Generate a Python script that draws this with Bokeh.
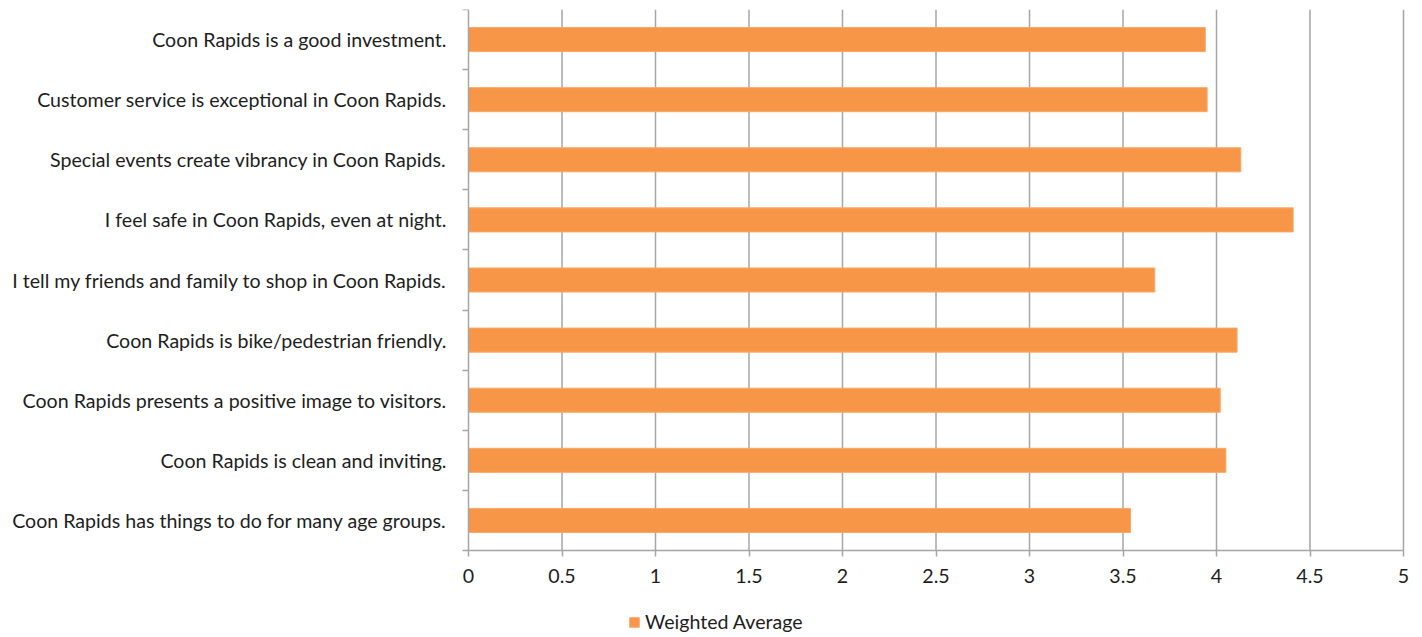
from bokeh.plotting import figure
from bokeh.models import FixedTicker, Range1d, Legend, LegendItem, ColumnDataSource
from bokeh.embed import file_html
from bokeh.resources import INLINE

# Survey statements, listed from the bottom of the chart to the top
statements = [
    "Coon Rapids has things to do for many age groups.",
    "Coon Rapids is clean and inviting.",
    "Coon Rapids presents a positive image to visitors.",
    "Coon Rapids is bike/pedestrian friendly.",
    "I tell my friends and family to shop in Coon Rapids.",
    "I feel safe in Coon Rapids, even at night.",
    "Special events create vibrancy in Coon Rapids.",
    "Customer service is exceptional in Coon Rapids.",
    "Coon Rapids is a good investment.",
]
weighted_average = [3.54, 4.05, 4.02, 4.11, 3.67, 4.41, 4.13, 3.95, 3.94]
x_ticks = [0, 0.5, 1, 1.5, 2, 2.5, 3, 3.5, 4, 4.5, 5]
x_tick_labels = ["0", "0.5", "1", "1.5", "2", "2.5", "3", "3.5", "4", "4.5", "5"]

FONT = "Lato"
FONT_SIZE = "19.6px"
GRID = "#a6a6a6"
TEXT = "#1e1e1e"

n = len(statements)
x_max = x_ticks[-1]
centers = [i + 0.5 for i in range(n)]
source = ColumnDataSource(dict(y=centers, value=weighted_average))

# One frame covers the whole page; both axes are pinned at 0 inside it so the
# statement labels, tick labels and legend all share the same drawing area.
PAGE_W = 1422
LEFT_PX, RIGHT_PX = 468, 19          # room for statements / right margin
BAR_PX, BOTTOM_PX = 541, 87          # bar area height / room for ticks + legend
px_x = (PAGE_W - LEFT_PX - RIGHT_PX) / x_max
px_y = BAR_PX / n

p = figure(
    frame_width=PAGE_W, frame_height=BAR_PX + BOTTOM_PX,
    output_backend="svg", toolbar_location=None,
    x_range=Range1d(-LEFT_PX / px_x, x_max + RIGHT_PX / px_x),
    y_range=Range1d(-BOTTOM_PX / px_y, n),
    min_border_left=0, min_border_right=0, min_border_top=9, min_border_bottom=0,
)
p.outline_line_color = None
p.background_fill_color = "white"
p.border_fill_color = "white"
p.xgrid.grid_line_color = None
p.ygrid.grid_line_color = None

# vertical gridlines over the bar area only
grid_x = x_ticks[1:]
p.segment(x0=grid_x, x1=grid_x, y0=[0] * len(grid_x), y1=[n] * len(grid_x),
          line_color=GRID, line_width=1.5)

r = p.hbar(y="y", right="value", left=0, height=0.4, source=source,
           fill_color="#f79646", line_color="#f9a86a", line_width=1)

# x axis, pinned to y = 0
xa = p.xaxis[0]
xa.fixed_location = 0
xa.bounds = (0, x_max)
xa.ticker = FixedTicker(ticks=x_ticks, minor_ticks=[])
xa.major_label_overrides = {t: s for t, s in zip(x_ticks, x_tick_labels)}
xa.axis_line_color = GRID
xa.axis_line_width = 1.5
xa.major_tick_line_color = GRID
xa.major_tick_line_width = 1.5
xa.major_tick_in = 0
xa.major_tick_out = 6
xa.minor_tick_line_color = None
xa.major_label_standoff = 12
xa.major_label_text_font = FONT
xa.major_label_text_font_size = FONT_SIZE
xa.major_label_text_color = TEXT

# y axis pinned to x = 0: labels at band centres, ticks at band boundaries
ya = p.yaxis[0]
ya.fixed_location = 0
ya.bounds = (0, n)
ya.ticker = FixedTicker(ticks=centers, minor_ticks=list(range(n + 1)))
ya.major_label_overrides = {c: s for c, s in zip(centers, statements)}
ya.axis_line_color = GRID
ya.axis_line_width = 1.5
ya.major_tick_line_color = None
ya.major_tick_in = 0
ya.major_tick_out = 0
ya.minor_tick_line_color = GRID
ya.minor_tick_line_width = 1.5
ya.minor_tick_in = 0
ya.minor_tick_out = 6
ya.major_label_standoff = 16
ya.major_label_text_font = FONT
ya.major_label_text_font_size = FONT_SIZE
ya.major_label_text_color = TEXT

legend = Legend(items=[LegendItem(label="Weighted Average", renderers=[r])],
                orientation="horizontal", location=(628, 4),
                label_text_font=FONT, label_text_font_size=FONT_SIZE,
                label_text_color=TEXT, glyph_width=12, glyph_height=12,
                label_standoff=5, border_line_color=None, padding=0, margin=0,
                label_height=20, background_fill_alpha=0)
p.add_layout(legend)

open("out.html", "w").write(file_html(p, INLINE))
